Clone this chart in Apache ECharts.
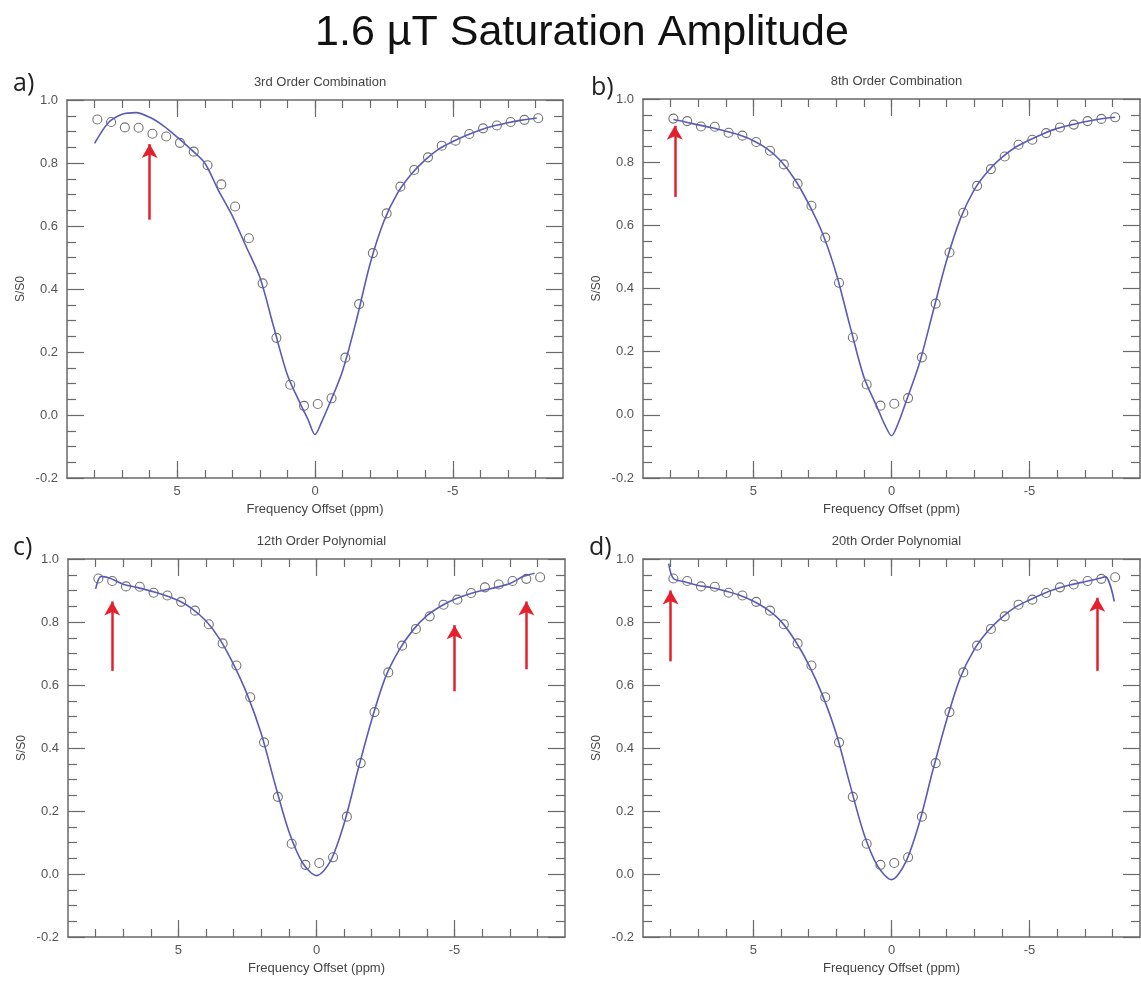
<!DOCTYPE html>
<html>
<head>
<meta charset="utf-8">
<script src="https://cdn.jsdelivr.net/npm/echarts@6/dist/echarts.min.js"></script>
<style>
  html, body { margin: 0; padding: 0; background: #fff; }
  #main { width: 1141px; height: 982px; }
</style>
</head>
<body>
<div id="main"></div>
<script>
// measured Z-spectrum (same points in every panel)
var offsets = [7.9, 7.4, 6.9, 6.4, 5.9, 5.4, 4.9, 4.4, 3.9, 3.4, 2.9, 2.4, 1.9, 1.4, 0.9, 0.4,
  -0.1, -0.6, -1.1, -1.6, -2.1, -2.6, -3.1, -3.6, -4.1, -4.6, -5.1, -5.6, -6.1, -6.6, -7.1, -7.6, -8.1];
var signal = [0.938, 0.930, 0.913, 0.912, 0.893, 0.884, 0.864, 0.836, 0.793, 0.732, 0.662, 0.561, 0.418, 0.245, 0.096, 0.029,
  0.035, 0.053, 0.182, 0.352, 0.514, 0.640, 0.725, 0.778, 0.818, 0.855, 0.871, 0.892, 0.910, 0.919, 0.930, 0.937, 0.942];

// fitted curves
var fitXa = [8.0, 7.5, 7.0, 6.5, 6.0, 5.5, 5.0, 4.5, 4.0, 3.5, 3.0, 2.5, 2.0, 1.5, 1.0, 0.5, 0.25, 0.0,
  -0.25, -0.5, -1.0, -1.5, -2.0, -2.5, -3.0, -3.5, -4.0, -4.5, -5.0, -5.5, -6.0, -6.5, -7.0, -7.5, -8.05];
var fitYa = [0.862, 0.928, 0.955, 0.960, 0.945, 0.918, 0.882, 0.843, 0.800, 0.712, 0.632, 0.535, 0.437, 0.280, 0.127, 0.030, -0.015, -0.062,
  -0.020, 0.030, 0.140, 0.300, 0.480, 0.615, 0.705, 0.765, 0.810, 0.845, 0.868, 0.888, 0.905, 0.918, 0.928, 0.936, 0.943];

var fitXb = [7.9, 7.5, 7.0, 6.5, 6.0, 5.5, 5.0, 4.5, 4.0, 3.5, 3.0, 2.5, 2.0, 1.5, 1.0, 0.5, 0.25, 0.0,
  -0.25, -0.5, -1.0, -1.5, -2.0, -2.5, -3.0, -3.5, -4.0, -4.5, -5.0, -5.5, -6.0, -6.5, -7.0, -7.5, -8.1];
var fitYb = [0.935, 0.928, 0.918, 0.909, 0.898, 0.886, 0.868, 0.842, 0.803, 0.745, 0.668, 0.575, 0.447, 0.280, 0.120, 0.020, -0.030, -0.066,
  -0.025, 0.035, 0.160, 0.325, 0.490, 0.622, 0.713, 0.772, 0.815, 0.848, 0.870, 0.890, 0.907, 0.918, 0.928, 0.936, 0.942];

var fitXc = [8.0, 7.8, 7.5, 7.0, 6.5, 6.0, 5.5, 5.0, 4.5, 4.0, 3.5, 3.0, 2.5, 2.0, 1.5, 1.0, 0.5, 0.0,
  -0.5, -1.0, -1.5, -2.0, -2.5, -3.0, -3.5, -4.0, -4.5, -5.0, -5.5, -6.0, -6.5, -7.0, -7.5, -7.9];
var fitYc = [0.905, 0.945, 0.940, 0.920, 0.910, 0.898, 0.885, 0.868, 0.842, 0.803, 0.745, 0.665, 0.568, 0.445, 0.285, 0.135, 0.035, -0.005,
  0.040, 0.160, 0.330, 0.490, 0.625, 0.712, 0.775, 0.820, 0.850, 0.872, 0.888, 0.900, 0.910, 0.922, 0.945, 0.955];

var fitXd = [8.07, 7.9, 7.5, 7.0, 6.5, 6.0, 5.5, 5.0, 4.5, 4.0, 3.5, 3.0, 2.5, 2.0, 1.5, 1.0, 0.5, 0.0,
  -0.5, -1.0, -1.5, -2.0, -2.5, -3.0, -3.5, -4.0, -4.5, -5.0, -5.5, -6.0, -6.5, -7.0, -7.5, -7.75, -8.07];
var fitYd = [0.985, 0.938, 0.928, 0.916, 0.909, 0.898, 0.885, 0.866, 0.840, 0.802, 0.742, 0.665, 0.568, 0.445, 0.283, 0.128, 0.025, -0.018,
  0.035, 0.160, 0.330, 0.490, 0.625, 0.713, 0.772, 0.815, 0.848, 0.870, 0.890, 0.906, 0.918, 0.928, 0.938, 0.944, 0.865];

// red arrows: [x, from y, to y]
var arrowsA = [[6.0, 0.62, 0.86]];
var arrowsB = [[7.85, 0.69, 0.915]];
var arrowsC = [[7.4, 0.645, 0.865], [-5.0, 0.58, 0.79], [-7.6, 0.65, 0.865]];
var arrowsD = [[8.0, 0.675, 0.90], [-7.45, 0.645, 0.877]];

var xMajor = [-5, 0, 5];
var xMinor = [-8, -7, -6, -5, -4, -3, -2, -1, 0, 1, 2, 3, 4, 5, 6, 7, 8];

var panels = [
  { tag: 'a)', title: '3rd Order Combination', grid: { left: 67, top: 100, width: 496, height: 378 }, tagPos: [8, 66], fx: fitXa, fy: fitYa, arrows: arrowsA },
  { tag: 'b)', title: '8th Order Combination', grid: { left: 643, top: 99, width: 497, height: 379 }, tagPos: [586, 70], fx: fitXb, fy: fitYb, arrows: arrowsB },
  { tag: 'c)', title: '12th Order Polynomial', grid: { left: 68, top: 559, width: 497, height: 378 }, tagPos: [8, 530], fx: fitXc, fy: fitYc, arrows: arrowsC },
  { tag: 'd)', title: '20th Order Polynomial', grid: { left: 643, top: 559, width: 497, height: 378 }, tagPos: [584, 530], fx: fitXd, fy: fitYd, arrows: arrowsD }
];

var axisGray = '#6a6a6a';
var fitColor = '#5a5ab8';
var font = 'Liberation Sans, Arial, sans-serif';

var chart = echarts.init(document.getElementById('main'));

var titles = [{
  text: '1.6 µT Saturation Amplitude',
  left: 577, top: 7, textAlign: 'center',
  textStyle: { fontSize: 43, fontWeight: 'normal', color: '#111', fontFamily: font }
}];
var grids = [], xAxes = [], yAxes = [], series = [];

panels.forEach(function (p, i) {
  grids.push(p.grid);
  titles.push({
    text: p.title, left: p.grid.left + p.grid.width / 2, top: p.grid.top - 29, textAlign: 'center',
    textStyle: { fontSize: 13, fontWeight: 'normal', color: '#444', fontFamily: font }
  });
  titles.push({
    text: p.tag, left: p.tagPos[0], top: p.tagPos[1],
    textStyle: { fontSize: 25, fontWeight: 'normal', color: '#222', fontFamily: 'Open Sans, sans-serif' }
  });

  function xa(pos, major, withLabel) {
    return {
      type: 'value', gridIndex: i, min: -9, max: 9, inverse: true, position: pos,
      splitLine: { show: false },
      axisLine: { show: !major, onZero: false, lineStyle: { color: axisGray, width: 1.5 } },
      axisTick: { inside: true, length: major ? 17 : 8, customValues: major ? xMajor : xMinor, lineStyle: { color: axisGray, width: 1.2 } },
      axisLabel: withLabel ? { show: true, customValues: xMajor, margin: 7, color: '#555', fontSize: 13, fontFamily: font } : { show: false },
      name: withLabel ? 'Frequency Offset (ppm)' : '',
      nameLocation: 'middle', nameGap: 25,
      nameTextStyle: { fontSize: 13, color: '#444', fontFamily: font }
    };
  }
  xAxes.push(xa('bottom', false, true), xa('bottom', true, false), xa('top', false, false), xa('top', true, false));

  function ya(pos, withLabel) {
    return {
      type: 'value', gridIndex: i, min: -0.2, max: 1.0, interval: 0.2, position: pos,
      splitLine: { show: false },
      axisLine: { show: true, onZero: false, lineStyle: { color: axisGray, width: 1.5 } },
      axisTick: { inside: true, length: 17, lineStyle: { color: axisGray, width: 1.2 } },
      minorTick: { show: true, splitNumber: 4, length: 9, lineStyle: { color: axisGray, width: 1.2 } },
      axisLabel: withLabel ? { show: true, margin: 9, color: '#555', fontSize: 13, fontFamily: font,
        formatter: function (v) { return v.toFixed(1); } } : { show: false },
      name: withLabel ? 'S/S0' : '',
      nameLocation: 'middle', nameGap: 40, nameRotate: 90,
      nameTextStyle: { fontSize: 12, color: '#444', fontFamily: font }
    };
  }
  yAxes.push(ya('left', true), ya('right', false));

  series.push({
    type: 'scatter', xAxisIndex: i * 4, yAxisIndex: i * 2,
    data: offsets.map(function (x, k) { return [x, signal[k]]; }),
    symbol: 'circle', symbolSize: 9,
    itemStyle: { color: 'rgba(255,255,255,0)', borderColor: '#505050', borderWidth: 1.1 }, z: 2,
    markLine: {
      silent: true, animation: false, symbol: ['none', 'arrow'], symbolSize: [12, 14],
      label: { show: false },
      lineStyle: { color: '#e4202c', width: 2.5, type: 'solid' },
      data: p.arrows.map(function (a) { return [{ coord: [a[0], a[1]] }, { coord: [a[0], a[2]] }]; })
    }
  });
  series.push({
    type: 'line', xAxisIndex: i * 4, yAxisIndex: i * 2,
    data: p.fx.map(function (x, k) { return [x, p.fy[k]]; }),
    smooth: 0.3, showSymbol: false, symbol: 'none',
    lineStyle: { color: fitColor, width: 1.6 }, z: 3
  });
});

chart.setOption({
  animation: false,
  backgroundColor: '#fff',
  title: titles,
  grid: grids,
  xAxis: xAxes,
  yAxis: yAxes,
  series: series
});
</script>
</body>
</html>
